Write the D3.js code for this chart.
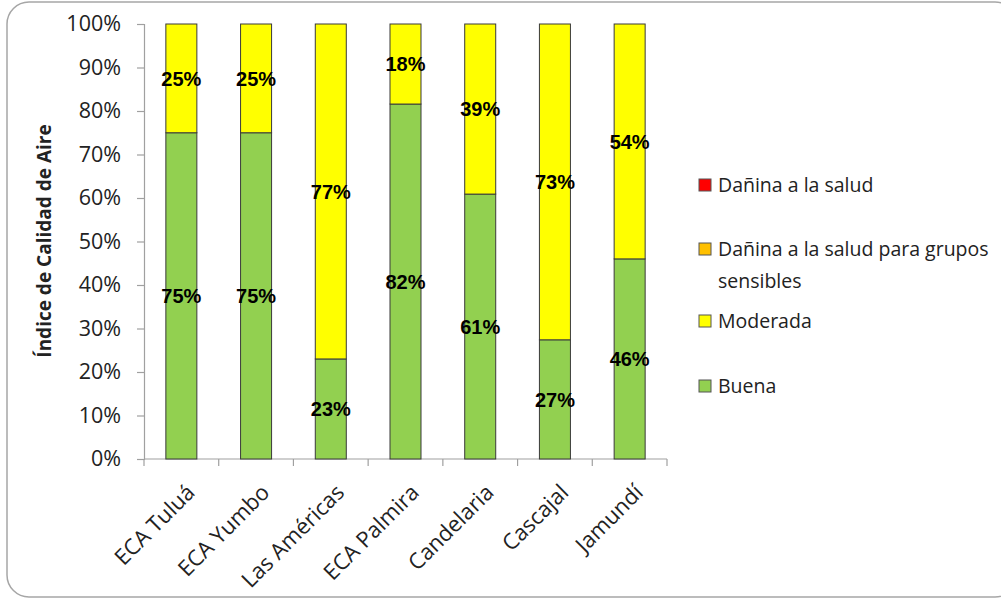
<!DOCTYPE html>
<html><head><meta charset="utf-8">
<script src="https://cdn.jsdelivr.net/npm/d3@7"></script>
<style>body{margin:0;background:#fff}svg{display:block}</style>
</head><body>
<svg id="c" width="1001" height="598"></svg>
<script>
const categories = ["ECA Tuluá","ECA Yumbo","Las Américas","ECA Palmira","Candelaria","Cascajal","Jamundí"];
const buena = [75, 75, 23, 81.6, 60.9, 27.4, 46];
const moderada = [25, 25, 77, 18.4, 39.1, 72.6, 54];
const danSensibles = [0,0,0,0,0,0,0];
const danSalud = [0,0,0,0,0,0,0];
const yTicks = [0,10,20,30,40,50,60,70,80,90,100];
const seriesNames = ["Buena","Moderada","Dañina a la salud para grupos sensibles","Dañina a la salud"];
const seriesColors = ["#92d050","#ffff00","#ffc000","#ff0000"];

const svg = d3.select("#c");
svg.append("rect").attr("x",7).attr("y",2).attr("width",1010).attr("height",595).attr("rx",22)
  .attr("fill","#fff").attr("stroke","#a6a6a6").attr("stroke-width",1.5);

const m = {l:144, r:667, t:24, b:459};
const x = d3.scaleBand().domain(categories).range([m.l,m.r]).paddingInner(0.585).paddingOuter(0.2925);
const y = d3.scaleLinear().domain([0,100]).range([m.b,m.t]);

const rows = categories.map((c,i)=>({cat:c, Buena:buena[i], Moderada:moderada[i],
  "Dañina a la salud para grupos sensibles":danSensibles[i], "Dañina a la salud":danSalud[i]}));
const stack = d3.stack().keys(seriesNames)(rows);

// axes
const yAxis = d3.axisLeft(y).tickValues(yTicks).tickFormat(d=>d+"%").tickSize(7).tickPadding(16);
const gy = svg.append("g").attr("transform",`translate(${m.l},0)`).call(yAxis);
gy.selectAll("path,line").attr("stroke","#a0a0a0").attr("stroke-width",1.2);
gy.selectAll("text").attr("font-family","Open Sans, sans-serif").attr("font-size",21.5).attr("fill","#222");

const xTickScale = d3.scalePoint().domain(d3.range(8)).range([m.l,m.r]);
const gx = svg.append("g").attr("transform",`translate(0,${m.b})`);
gx.append("line").attr("x1",m.l).attr("x2",m.r).attr("stroke","#a0a0a0").attr("stroke-width",1.2);
gx.selectAll("line.t").data(d3.range(8)).join("line").attr("class","t")
  .attr("x1",d=>xTickScale(d)).attr("x2",d=>xTickScale(d)).attr("y1",0).attr("y2",7)
  .attr("stroke","#a0a0a0").attr("stroke-width",1.2);
gx.selectAll("text").data(categories).join("text")
  .attr("transform",d=>`translate(${x(d)+x.bandwidth()/2+4},24) rotate(-45)`)
  .attr("text-anchor","end").attr("dy","0.7em")
  .attr("font-family","Open Sans, sans-serif").attr("font-size",22).attr("fill","#222").text(d=>d);

// bars
stack.forEach((s,si)=>{
  svg.append("g").selectAll("rect").data(s.filter(d=>d[1]-d[0]>0)).join("rect")
    .attr("x",d=>x(d.data.cat)).attr("width",x.bandwidth())
    .attr("y",d=>y(d[1])).attr("height",d=>y(d[0])-y(d[1]))
    .attr("fill",seriesColors[si]).attr("stroke","#3a3a3a").attr("stroke-width",1);
});
// labels
stack.slice(0,2).forEach((s)=>{
  svg.append("g").selectAll("text").data(s).join("text")
    .attr("x",d=>x(d.data.cat)+x.bandwidth()/2).attr("y",d=>(y(d[0])+y(d[1]))/2)
    .attr("text-anchor","middle").attr("dy","0.36em")
    .attr("font-family","Liberation Sans, Arial, sans-serif").attr("font-weight","bold")
    .attr("font-size",20).attr("fill","#000").text(d=>Math.round(d[1]-d[0])+"%");
});

// y title
svg.append("text").attr("transform","translate(51,241) rotate(-90)").attr("text-anchor","middle")
  .attr("font-family","Open Sans, sans-serif").attr("font-weight","bold").attr("font-size",19)
  .attr("fill","#222").text("Índice de Calidad de Aire");

// legend
const legend = [
  {name:"Dañina a la salud", color:seriesColors[3], y:185, lines:["Dañina a la salud"]},
  {name:"Dañina a la salud para grupos sensibles", color:seriesColors[2], y:249, lines:["Dañina a la salud para grupos","sensibles"]},
  {name:"Moderada", color:seriesColors[1], y:321, lines:["Moderada"]},
  {name:"Buena", color:seriesColors[0], y:386, lines:["Buena"]}
];
const lg = svg.append("g").selectAll("g").data(legend).join("g").attr("transform",d=>`translate(699,${d.y})`);
lg.append("rect").attr("x",0).attr("y",-6).attr("width",12).attr("height",12)
  .attr("fill",d=>d.color).attr("stroke","#555").attr("stroke-width",1);
lg.each(function(d){
  const t = d3.select(this).append("text").attr("font-family","Open Sans, sans-serif").attr("font-size",19.5).attr("fill","#222");
  d.lines.forEach((l,i)=>t.append("tspan").attr("x",19).attr("y",i*32).attr("dy","0.35em").text(l));
});
</script>
</body></html>
